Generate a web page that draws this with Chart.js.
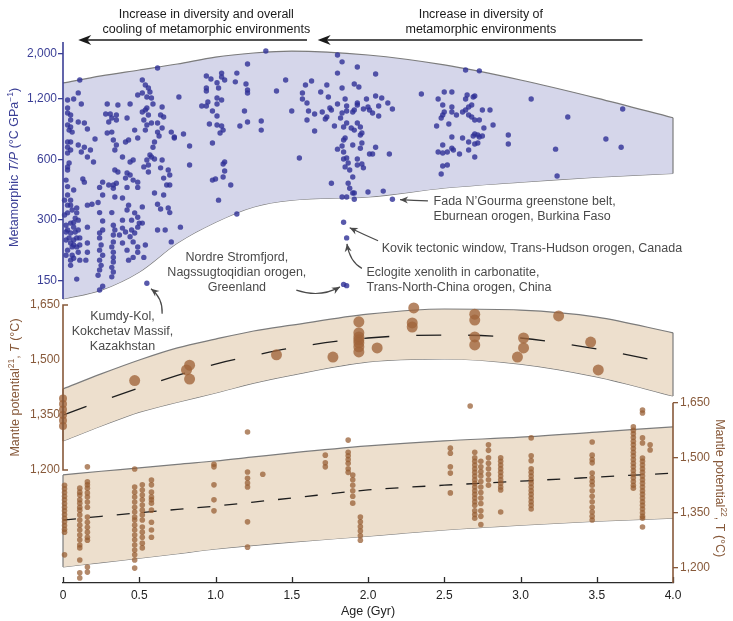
<!DOCTYPE html>
<html>
<head>
<meta charset="utf-8">
<script src="https://cdn.jsdelivr.net/npm/chart.js@4.4.1/dist/chart.umd.min.js"></script>
<style>
  html, body { margin: 0; padding: 0; background: #fff; }
  canvas { display: block; }
</style>
</head>
<body>
<canvas id="tempChart" width="733" height="621"></canvas>
<script>
// axis ticks
const ageTicks = [0, 0.5, 1, 1.5, 2, 2.5, 3, 3.5, 4];
const tpTicks = [150, 300, 600, 1200, 2000];
const mantleTicks = [1200, 1350, 1500, 1650];

// envelope outlines, read at these ages (Gyr)
const bandAge = [0, 0.25, 0.5, 0.75, 1, 1.25, 1.5, 2, 2.5, 3, 3.5, 4];
const tpUpper = [1437, 1557, 1666, 1785, 1932, 2023, 2069, 1977, 1765, 1486, 1209, 966];
const tpLower = [122, 135, 166, 231, 293, 349, 377, 391, 433, 463, 490, 511];
const m21Upper = [1421, 1462, 1500, 1533, 1557, 1579, 1595, 1625, 1639, 1636, 1617, 1574];
const m21Lower = [1279, 1320, 1358, 1385, 1410, 1437, 1459, 1495, 1503, 1489, 1454, 1402];
const m21Mean = [1350, 1388, 1424, 1458, 1489, 1512, 1533, 1560, 1568, 1560, 1530, 1489];
const m22Upper = [1453, 1463, 1472, 1482, 1491, 1502, 1513, 1532, 1546, 1556, 1570, 1584];
const m22Lower = [1202, 1214, 1226, 1238, 1251, 1261, 1270, 1286, 1303, 1316, 1327, 1335];
const m22Mean = [1330, 1340, 1350, 1359, 1368, 1379, 1390, 1412, 1425, 1436, 1447, 1458];

// metamorphic T/P (°C/GPa) samples: [age, T/P]
const tpPointsEarly = [
  [0.11,1486],[0.10,1283],[0.07,1197],[0.12,1130],[0.03,1183],[0.03,1079],[0.03,1020],[0.05,997],[0.05,941],[0.03,889],
  [0.05,869],[0.04,839],[0.06,820],[0.03,732],[0.05,732],[0.03,690],[0.05,668],[0.03,646],[0.10,920],[0.14,910],
  [0.16,849],[0.10,707],[0.12,653],[0.21,758],[0.16,617],[0.20,583],[0.04,576],[0.03,551],[0.03,532],[0.14,463],
  [0.03,440],[0.03,400],[0.05,377],[0.03,356],[0.06,337],[0.03,326],[0.09,345],[0.09,326],[0.08,307],[0.10,300],
  [0.05,290],[0.07,277],[0.03,268],[0.05,259],[0.08,262],[0.10,268],[0.04,245],[0.07,239],[0.09,245],[0.05,231],
  [0.06,221],[0.09,221],[0.03,213],[0.10,208],[0.06,201],[0.05,190],[0.11,190],[0.09,153],[0.16,277],[0.16,231],
  [0.16,208],[0.15,190],[0.19,360],[0.16,356],[0.01,318],[0.02,283],[0.07,292],[0.02,239],[0.07,226],[0.02,201],
  [0.07,194],[0.05,179],[0.02,262],[0.11,245],[0.11,226],[0.01,377],[0.02,474],[0.07,423],[0.05,356],[0.18,668],
  [0.14,690],[0.13,480],
  [0.24,436],[0.26,400],[0.23,367],[0.24,327],[0.26,297],[0.26,268],[0.24,259],[0.24,245],[0.25,226],[0.24,213],
  [0.26,201],[0.24,190],[0.25,179],[0.24,170],[0.23,160],[0.26,141],[0.24,135],
  [0.33,448],[0.35,457],[0.34,391],[0.32,327],[0.33,283],[0.34,268],[0.33,253],[0.33,234],[0.32,221],[0.33,208],
  [0.33,196],[0.33,186],[0.32,175],[0.33,166],[0.32,157],
  [0.29,1130],[0.31,1008],[0.28,1008],[0.36,1117],[0.35,997],[0.32,963],[0.35,941],[0.30,920],[0.29,811],[0.32,820],
  [0.33,749],[0.35,707],[0.34,668],[0.39,617],[0.34,532],[0.36,520],[0.33,432],[0.26,463],[0.30,448],
  [0.39,274],[0.41,262],[0.37,253],[0.39,231],[0.42,213],[0.44,248],[0.45,268],[0.47,259],[0.46,234],[0.49,221],
  [0.49,208],[0.43,190],[0.46,196],[0.39,386],[0.43,356],[0.42,337],[0.47,326],[0.49,310],[0.50,290],[0.49,277],
  [0.45,300],[0.39,300],
  [0.42,963],[0.44,1130],[0.49,1252],[0.41,732],[0.43,749],[0.47,839],[0.49,766],[0.44,583],[0.46,596],[0.42,514],
  [0.44,502],[0.46,474],[0.49,463],[0.41,485],[0.42,436],[0.49,436],
  [0.52,349],[0.52,290],[0.54,226],[0.53,196],[0.60,409],[0.66,400],[0.70,448],[0.62,360],[0.64,341],[0.69,345],
  [0.70,327],[0.71,234],[0.62,268],[0.67,268],[0.77,277],[0.55,146],
  [0.52,1486],[0.54,1404],[0.56,1357],[0.57,1296],[0.52,1281],[0.55,1224],[0.58,1210],[0.52,1031],[0.54,1055],[0.55,1079],
  [0.59,1130],[0.56,997],[0.53,941],[0.55,889],[0.58,910],[0.54,839],[0.65,1092],[0.64,997],[0.66,974],[0.62,910],
  [0.65,859],[0.62,820],[0.63,784],[0.60,732],[0.59,690],[0.57,631],[0.58,617],[0.55,596],[0.60,603],[0.65,596],
  [0.56,563],[0.53,551],[0.56,520],[0.71,820],[0.73,775],[0.76,1224],[0.69,532],[0.70,502],[0.64,545],[0.66,485],
  [0.68,448],[0.62,1705],[0.79,802],[0.73,766]
];
const tpPointsMid = [
  [1.33,2069],[1.21,1785],[1.14,1608],[1.13,1455],[1.04,1608],[1.04,1537],[1.06,1486],[1.01,1440],[1.02,1357],[0.97,1503],
  [0.94,1555],[0.94,1357],[0.94,1311],[1.20,1421],[1.21,1326],[1.21,1281],[1.01,1210],[1.04,1183],[1.01,1130],[0.95,1156],
  [0.91,1104],[0.94,1104],[0.98,1043],[1.01,985],[0.96,899],[1.01,889],[1.04,879],[1.05,839],[1.03,811],[1.19,1043],
  [1.21,920],[1.16,879],[1.30,930],[1.30,839],[1.40,1311],[1.46,1486],[1.50,1043],[1.59,1404],[1.57,1281],[1.57,1197],
  [0.83,699],[0.83,563],[0.98,724],[1.06,583],[1.05,570],[1.06,526],[1.05,491],[0.98,474],[1.00,480],[1.10,448],
  [1.55,610],[1.02,377],[1.14,322],
  [1.80,1977],[1.83,1829],[1.93,1725],[1.80,1608],[2.05,1592],[1.63,1470],[1.73,1404],[1.83,1357],[1.91,1421],[1.94,1373],
  [1.60,1143],[1.69,1296],[1.74,1224],[1.80,1130],[1.85,1197],[1.86,1104],[1.93,1143],[1.93,1117],[1.99,1197],[2.05,1238],
  [2.09,1210],[2.13,1143],[2.16,1067],[2.07,1104],[2.00,1092],[2.01,1055],[2.03,1020],[2.07,985],[1.61,1043],[1.65,1008],
  [1.70,1031],[1.75,1079],[1.76,1055],[1.73,974],[1.72,952],[1.60,941],[1.82,963],[1.83,1020],[1.86,1043],[1.90,1031],
  [1.91,1055],[1.97,1067],[1.78,879],[1.84,869],[1.86,910],[1.89,859],[1.91,839],[1.93,910],[1.95,869],[1.65,830],
  [1.95,793],[1.96,811],[1.85,766],[1.84,749],[1.90,707],[1.96,724],[2.05,690],[2.01,639],[2.03,639],[2.14,639],
  [1.80,675],[1.83,699],[1.84,653],[1.95,682],[1.84,603],[1.86,610],[1.87,576],[1.93,603],[1.85,551],[1.88,532],
  [1.93,563],[1.96,570],[1.97,545],[1.90,491],[1.76,457],[1.87,457],[1.88,432],[1.90,409],[1.91,409],[2.00,414],
  [2.10,418],[1.83,391],[1.86,391],[1.91,381],[2.16,381],[1.84,293],[1.86,245],[1.86,142],[1.84,144]
];
const tpPointsLate = [
  [2.64,1666],[2.73,1650],[2.35,1266],[2.46,1197],[2.50,1296],[2.55,1296],[2.64,1197],[2.65,1252],[2.69,1224],[2.70,1238],
  [2.68,1117],[2.66,1092],[2.49,1117],[2.55,1092],[2.50,1031],[2.49,997],[2.48,963],[2.55,1031],[2.58,997],[2.62,1031],
  [2.64,1055],[2.66,997],[2.68,974],[2.70,941],[2.73,941],[2.75,1055],[2.80,1055],[2.82,889],[2.76,859],[2.45,879],
  [2.53,899],[2.70,802],[2.72,793],[2.73,775],[2.69,784],[2.75,784],[2.62,766],[2.55,775],[2.66,732],[2.70,716],
  [2.72,724],[2.49,707],[2.55,682],[2.56,668],[2.52,653],[2.49,646],[2.46,653],[2.60,639],[2.66,668],[2.70,617],
  [2.49,557],[2.52,563],[2.48,508],[2.92,793],[2.92,716],[3.07,1197],[3.23,675],[3.24,497],[3.31,974],[3.56,758],
  [3.66,690],[3.67,1067]
];

// mantle potential temperature, ref 21: [age, T]
const m21Points = [
  [0,1320],[0,1335],[0,1350],[0,1365],[0,1380],[0,1395],[0.47,1444],[0.81,1473],[0.83,1486],[0.83,1448],
  [1.40,1514],[1.77,1508],[1.94,1604],[1.94,1574],[1.94,1563],[1.94,1555],[1.94,1547],[1.94,1536],[1.94,1522],
  [2.06,1533],[2.30,1642],[2.29,1601],[2.29,1590],[2.70,1625],[2.70,1609],[2.70,1563],[2.70,1541],
  [3.02,1560],[3.02,1533],[2.98,1508],[3.25,1620],[3.46,1549],[3.51,1473]
];

// mantle potential temperature, ref 22: columns of [age, [T...]]
const m22Columns = [
  [0.01, [1425,1415,1405,1395,1385,1375,1365,1355,1345,1335,1325,1315,1305,1297,1235]],
  [0.11, [1417,1406,1398,1385,1376,1365,1357,1344,1330,1316,1303,1289,1276,1262,1254,1221,1186,1172]],
  [0.16, [1475,1434,1426,1417,1404,1393,1379,1365,1338,1324,1310,1297,1283,1275,1202,1188]],
  [0.47, [1469,1420,1406,1393,1379,1365,1352,1338,1330,1316,1303,1289,1276,1262,1248,1235,1221,1199]],
  [0.52, [1426,1412,1398,1385,1371,1357,1344,1330,1311,1297,1283,1267,1254]],
  [0.58, [1439,1426,1406,1393,1385,1376,1357,1324,1303,1283]],
  [0.99, [1482,1475,1426,1385,1355]],
  [1.21, [1570,1461,1444,1431,1420,1325,1256]],
  [1.31, [1455]],
  [1.72, [1507,1486,1475]],
  [1.87, [1548,1515,1505,1495,1485,1470,1460]],
  [1.90, [1453,1440,1425,1410,1395,1376]],
  [1.95, [1338,1325,1312,1300,1287,1275]],
  [2.54, [1526,1512,1475,1458,1404]],
  [2.67, [1641]],
  [2.70, [1515,1500,1490,1480,1470,1460,1450,1440,1430,1420,1410,1400,1390,1380,1370,1355,1345,1335]],
  [2.74, [1490,1475,1462,1450,1435,1420,1405,1390,1375,1355,1340,1318]],
  [2.79, [1535,1520,1500,1485,1470,1455,1440,1425]],
  [2.87, [1500,1490,1480,1470,1460,1450,1440,1430,1420,1412,1352]],
  [3.07, [1554,1505,1492,1470,1460,1450,1440,1430,1420,1410,1400,1390,1380,1370,1360]],
  [3.47, [1543,1507,1495,1486,1458,1445,1435,1425,1410,1395,1380,1365,1352,1340,1330]],
  [3.74, [1584,1575,1565,1555,1545,1535,1525,1515,1505,1495,1485,1475,1465,1455,1445,1435,1425,1417]],
  [3.80, [1630,1622,1554,1540,1499,1490,1480,1470,1460,1450,1440,1430,1420,1410,1400,1390,1380,1370,1360,1350,1340,1335,1311]],
  [3.85, [1535,1521]]
];

// labels
const headerNotes = [
  { age: 0.94, lines: ['Increase in diversity and overall', 'cooling of metamorphic environments'], from: 1.6, to: 0.1 },
  { age: 2.74, lines: ['Increase in diversity of', 'metamorphic environments'], from: 3.8, to: 1.67 }
];
const sampleNotes = [
  { lines: ['Kumdy-Kol,', 'Kokchetav Massif,', 'Kazakhstan'], age: 0.39, tp: 100, align: 'center',
    arrow: [[0.65, 103], [0.656, 123], [0.577, 137]] },
  { lines: ['Nordre Stromfjord,', 'Nagssugtoqidian orogen,', 'Greenland'], age: 1.14, tp: 196, align: 'center',
    arrow: [[1.53, 135], [1.685, 123], [1.816, 140]] },
  { lines: ['Eclogite xenolith in carbonatite,', 'Trans-North-China orogen, China'], age: 1.99, tp: 164, align: 'left',
    arrow: [[1.96, 173], [1.88, 187], [1.862, 229]] },
  { lines: ['Kovik tectonic window, Trans-Hudson orogen, Canada'], age: 2.09, tp: 216, align: 'left',
    arrow: [[2.066, 237], [1.97, 255], [1.88, 275]] },
  { lines: ['Fada N\u2019Gourma greenstone belt,', 'Eburnean orogen, Burkina Faso'], age: 2.43, tp: 373, align: 'left',
    arrow: [[2.393, 374], [2.3, 376], [2.21, 379]] }
];

const FONT = '"Liberation Sans", Arial, sans-serif';
const BLUE = '#3b3f96';
const BROWN = '#87593a';
Chart.defaults.font.family = FONT;
Chart.defaults.font.size = 12;

const pts = (ages, vals) => ages.map((a, i) => ({ x: a, y: vals[i] }));
const pairs = list => list.map(p => ({ x: p[0], y: p[1] }));
const columns = list => list.flatMap(c => c[1].map(v => ({ x: c[0], y: v })));
const last = arr => arr[arr.length - 1];

const bandStyle = { type: 'line', borderColor: '#7c7c7c', borderWidth: 1.2, pointRadius: 0,
  cubicInterpolationMode: 'monotone', order: 3, clip: false };
const edgeStyle = { type: 'line', borderColor: '#7c7c7c', borderWidth: 1.2, pointRadius: 0,
  tension: 0, fill: false, order: 2, clip: false };
const meanStyle = { type: 'line', borderColor: '#1e1e1e', borderWidth: 1.3, pointRadius: 0,
  cubicInterpolationMode: 'monotone', fill: false, order: 2, clip: false };

function drawRich(ctx, parts, cx, cy, angle, color) {
  ctx.save();
  ctx.translate(cx, cy);
  ctx.rotate(angle);
  ctx.fillStyle = color;
  ctx.textBaseline = 'middle';
  ctx.textAlign = 'left';
  let total = 0;
  parts.forEach(p => { ctx.font = p.font; total += ctx.measureText(p.text).width; });
  let pos = -total / 2;
  parts.forEach(p => {
    ctx.font = p.font;
    ctx.fillText(p.text, pos, p.dy || 0);
    pos += ctx.measureText(p.text).width;
  });
  ctx.restore();
}

function arrowHead(ctx, x1, y1, ang, len, half) {
  ctx.beginPath();
  ctx.moveTo(x1, y1);
  ctx.lineTo(x1 - len * Math.cos(ang) + half * Math.sin(ang), y1 - len * Math.sin(ang) - half * Math.cos(ang));
  ctx.lineTo(x1 - len * 0.7 * Math.cos(ang), y1 - len * 0.7 * Math.sin(ang));
  ctx.lineTo(x1 - len * Math.cos(ang) - half * Math.sin(ang), y1 - len * Math.sin(ang) + half * Math.cos(ang));
  ctx.closePath();
  ctx.fill();
}

const decorations = {
  id: 'decorations',
  afterDraw(chart) {
    const { ctx, chartArea: area, scales } = chart;
    const { x, yTP, y21, y22 } = scales;
    const normal = '12.5px ' + FONT, italic = 'italic 12.5px ' + FONT, sup = '8.5px ' + FONT;
    ctx.save();

    // inward ticks on the age axis
    ctx.strokeStyle = '#2b2b2b';
    ctx.lineWidth = 1.3;
    ageTicks.forEach(a => {
      const px = Math.round(x.getPixelForValue(a)) + 0.5;
      ctx.beginPath(); ctx.moveTo(px, area.bottom); ctx.lineTo(px, area.bottom - 6); ctx.stroke();
    });

    // T/P axis line
    ctx.strokeStyle = BLUE;
    ctx.lineWidth = 1.6;
    ctx.beginPath();
    ctx.moveTo(area.left, yTP.getPixelForValue(yTP.max));
    ctx.lineTo(area.left, yTP.getPixelForValue(tpLower[0]));
    ctx.stroke();

    // mantle potential (ref 21) bracket axis with its labels
    const top21 = y21.getPixelForValue(last(mantleTicks));
    const bot21 = y21.getPixelForValue(mantleTicks[0]);
    ctx.strokeStyle = BROWN;
    ctx.beginPath();
    ctx.moveTo(area.left + 5, top21); ctx.lineTo(area.left, top21);
    ctx.lineTo(area.left, bot21); ctx.lineTo(area.left + 5, bot21);
    ctx.stroke();
    ctx.fillStyle = BROWN;
    ctx.font = '12px ' + FONT;
    ctx.textAlign = 'right';
    ctx.textBaseline = 'middle';
    mantleTicks.forEach(v => ctx.fillText(v.toLocaleString('en-US'), area.left - 3, y21.getPixelForValue(v)));

    // mantle potential (ref 22) axis
    ctx.beginPath();
    ctx.moveTo(y22.left, y22.getPixelForValue(last(mantleTicks)));
    ctx.lineTo(y22.left, area.bottom);
    ctx.stroke();

    // axis titles
    const tpMid = (yTP.getPixelForValue(tpTicks[0]) + yTP.getPixelForValue(last(tpTicks))) / 2;
    drawRich(ctx, [
      { text: 'Metamorphic ', font: normal }, { text: 'T/P', font: italic },
      { text: ' (\u00b0C GPa', font: normal }, { text: '\u22121', font: sup, dy: -4 }, { text: ')', font: normal }
    ], 15, tpMid, -Math.PI / 2, BLUE);
    drawRich(ctx, [
      { text: 'Mantle potential', font: normal }, { text: '21', font: sup, dy: -4 },
      { text: ', ', font: normal }, { text: 'T', font: italic }, { text: ' (\u00b0C)', font: normal }
    ], 16, (top21 + bot21) / 2, -Math.PI / 2, BROWN);
    const top22 = y22.getPixelForValue(last(mantleTicks));
    const bot22 = y22.getPixelForValue(mantleTicks[0]);
    drawRich(ctx, [
      { text: 'Mantle potential', font: normal }, { text: '22', font: sup, dy: -4 },
      { text: ', T (\u00b0C)', font: normal }
    ], 719, (top22 + bot22) / 2 + 3, Math.PI / 2, BROWN);

    // header arrows
    ctx.fillStyle = '#1a1a1a';
    ctx.strokeStyle = '#1a1a1a';
    ctx.font = normal;
    ctx.textAlign = 'center';
    ctx.textBaseline = 'middle';
    const arrowY = area.top - 2;
    headerNotes.forEach(n => {
      const cx = x.getPixelForValue(n.age);
      n.lines.forEach((t, i) => ctx.fillText(t, cx, area.top - 27 + i * 15));
      const x0 = x.getPixelForValue(n.from), x1 = x.getPixelForValue(n.to);
      ctx.lineWidth = 1.6;
      ctx.beginPath(); ctx.moveTo(x0, arrowY); ctx.lineTo(x1 + 8, arrowY); ctx.stroke();
      arrowHead(ctx, x1, arrowY, Math.PI, 13, 5);
    });

    // sample annotations
    ctx.fillStyle = '#4a4a4a';
    ctx.strokeStyle = '#4a4a4a';
    ctx.lineWidth = 1.2;
    sampleNotes.forEach(n => {
      const px = x.getPixelForValue(n.age), py = yTP.getPixelForValue(n.tp);
      ctx.textAlign = n.align;
      n.lines.forEach((t, i) => ctx.fillText(t, px, py + i * 15));
      const [a, c, b] = n.arrow.map(p => [x.getPixelForValue(p[0]), yTP.getPixelForValue(p[1])]);
      ctx.beginPath();
      ctx.moveTo(a[0], a[1]);
      ctx.quadraticCurveTo(c[0], c[1], b[0], b[1]);
      ctx.stroke();
      arrowHead(ctx, b[0], b[1], Math.atan2(b[1] - c[1], b[0] - c[0]), 8, 3.5);
    });
    ctx.restore();
  }
};

new Chart(document.getElementById('tempChart'), {
  type: 'scatter',
  data: {
    datasets: [
      { ...bandStyle, label: 'T/P upper', yAxisID: 'yTP', data: pts(bandAge, tpUpper), fill: '+1', backgroundColor: '#d5d6ea' },
      { ...bandStyle, label: 'T/P lower', yAxisID: 'yTP', data: pts(bandAge, tpLower), fill: false },
      { ...edgeStyle, label: 'T/P edge', yAxisID: 'yTP',
        data: [{ x: last(bandAge), y: last(tpUpper) }, { x: last(bandAge), y: last(tpLower) }] },

      { ...bandStyle, label: 'Tp21 upper', yAxisID: 'y21', data: pts(bandAge, m21Upper), fill: '+1', backgroundColor: '#eddfcd' },
      { ...bandStyle, label: 'Tp21 lower', yAxisID: 'y21', data: pts(bandAge, m21Lower), fill: false },
      { ...edgeStyle, label: 'Tp21 left', yAxisID: 'y21',
        data: [{ x: bandAge[0], y: m21Upper[0] }, { x: bandAge[0], y: m21Lower[0] }] },
      { ...edgeStyle, label: 'Tp21 right', yAxisID: 'y21',
        data: [{ x: last(bandAge), y: last(m21Upper) }, { x: last(bandAge), y: last(m21Lower) }] },
      { ...meanStyle, label: 'Tp21 mean', yAxisID: 'y21', data: pts(bandAge, m21Mean), borderDash: [25, 27] },

      { ...bandStyle, label: 'Tp22 upper', yAxisID: 'y22', data: pts(bandAge, m22Upper), fill: '+1', backgroundColor: '#eddfcd' },
      { ...bandStyle, label: 'Tp22 lower', yAxisID: 'y22', data: pts(bandAge, m22Lower), fill: false },
      { ...edgeStyle, label: 'Tp22 left', yAxisID: 'y22',
        data: [{ x: bandAge[0], y: m22Upper[0] }, { x: bandAge[0], y: m22Lower[0] }] },
      { ...meanStyle, label: 'Tp22 mean', yAxisID: 'y22', data: pts(bandAge, m22Mean), borderDash: [13, 14] },

      { label: 'Metamorphic T/P', yAxisID: 'yTP', order: 1, clip: false,
        data: pairs([...tpPointsEarly, ...tpPointsMid, ...tpPointsLate]),
        backgroundColor: 'rgba(46,48,150,0.8)', borderWidth: 0, pointRadius: 2.7 },
      { label: 'Mantle potential 21', yAxisID: 'y21', order: 1, clip: false,
        data: pairs(m21Points),
        backgroundColor: 'rgba(160,100,58,0.78)', borderWidth: 0,
        pointRadius: ctx => (ctx.raw && ctx.raw.x === 0 ? 4 : 5.5) },
      { label: 'Mantle potential 22', yAxisID: 'y22', order: 1, clip: false,
        data: columns(m22Columns),
        backgroundColor: 'rgba(150,92,48,0.72)', borderWidth: 0, pointRadius: 2.8 }
    ]
  },
  options: {
    responsive: false,
    animation: false,
    events: [],
    layout: { padding: { top: 42, left: 0, right: 0, bottom: 0 } },
    plugins: { legend: { display: false }, tooltip: { enabled: false } },
    scales: {
      x: {
        type: 'linear', position: 'bottom', min: 0, max: 4, bounds: 'data',
        afterBuildTicks: s => { s.ticks = ageTicks.map(v => ({ value: v })); },
        afterFit: s => { s.height = 38; },
        grid: { drawOnChartArea: false, drawTicks: false },
        border: { display: true, color: '#2b2b2b', width: 1.3 },
        ticks: { color: '#222', padding: 5, maxRotation: 0,
          callback: v => (v === 0 ? '0' : Number(v).toFixed(1)) },
        title: { display: true, text: 'Age (Gyr)', color: '#222', font: { size: 12.5 }, padding: { top: 0, bottom: 2 } }
      },
      yTP: {
        type: 'logarithmic', position: 'left', min: 4.76, max: 2294, bounds: 'data',
        afterBuildTicks: s => { s.ticks = tpTicks.map(v => ({ value: v })); },
        afterFit: s => { s.width = 63; },
        grid: { drawOnChartArea: false, drawTicks: true, tickLength: 5, color: BLUE, lineWidth: 1.3 },
        border: { display: false },
        ticks: { color: BLUE, padding: 1, callback: v => Number(v).toLocaleString('en-US') }
      },
      // shares the left margin; its labels are painted by the decorations plugin
      y21: {
        type: 'linear', position: 'left', display: false, min: 892, max: 2367, bounds: 'data'
      },
      y22: {
        type: 'linear', position: 'right', min: 1158.3, max: 2633.6, bounds: 'data',
        afterBuildTicks: s => { s.ticks = mantleTicks.map(v => ({ value: v })); },
        afterFit: s => { s.width = 60; },
        grid: { drawOnChartArea: false, drawTicks: true, tickLength: 5, color: BROWN, lineWidth: 1.3 },
        border: { display: false },
        ticks: { color: BROWN, padding: 2, callback: v => Number(v).toLocaleString('en-US') }
      }
    }
  },
  plugins: [decorations]
});
</script>
</body>
</html>
